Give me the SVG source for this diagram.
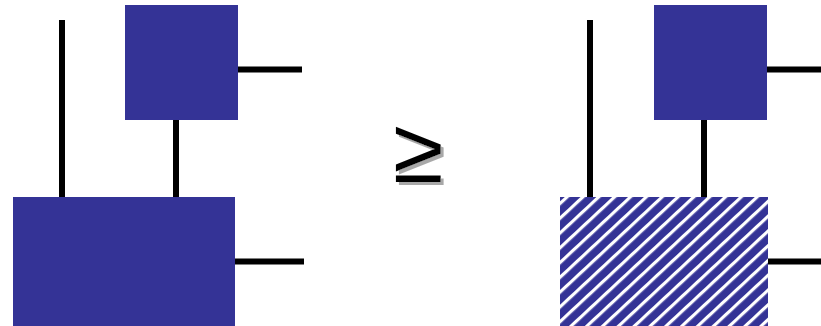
<svg xmlns="http://www.w3.org/2000/svg" width="821" height="326" viewBox="0 0 821 326">
<style>
.box{fill:#343396}
.wire{stroke:#000;stroke-width:6;fill:none}
.sym{font-family:"Liberation Sans",Arial,sans-serif;font-size:92px}
</style>
<defs>
<pattern id="hatch" patternUnits="userSpaceOnUse" width="10.8" height="10.8" patternTransform="rotate(47)">
<rect width="10.8" height="10.8" fill="#343396"/>
<rect x="0" y="0" width="3.2" height="10.8" fill="#ffffff"/>
</pattern>
<filter id="shadow" x="-20%" y="-20%" width="140%" height="140%">
<feOffset in="SourceAlpha" dx="3" dy="3" result="off"/>
<feFlood flood-color="#a8a8a8"/>
<feComposite in2="off" operator="in" result="sh"/>
<feMerge><feMergeNode in="sh"/><feMergeNode in="SourceGraphic"/></feMerge>
</filter>
</defs>
<rect width="821" height="326" fill="#fff"/>
<g id="connectors">
<line class="wire" x1="62" y1="20" x2="62" y2="197"/>
<line class="wire" x1="176" y1="120" x2="176" y2="197"/>
<line class="wire" x1="238" y1="69.5" x2="302" y2="69.5"/>
<line class="wire" x1="235" y1="261.5" x2="304" y2="261.5"/>
<line class="wire" x1="590" y1="20" x2="590" y2="197"/>
<line class="wire" x1="704" y1="120" x2="704" y2="197"/>
<line class="wire" x1="767" y1="69.5" x2="821" y2="69.5"/>
<line class="wire" x1="768" y1="261.5" x2="821" y2="261.5"/>
</g>
<g id="left-top"><rect class="box" x="125" y="5" width="113" height="115"/></g>
<g id="left-bottom"><rect class="box" x="13" y="197" width="222" height="129"/></g>
<g id="right-top"><rect class="box" x="654" y="5" width="113" height="115"/></g>
<g id="right-bottom"><rect x="560" y="197" width="208" height="129" fill="url(#hatch)"/></g>
<g id="relation">
<text class="sym" x="393" y="182" fill="#000" filter="url(#shadow)">≥</text>
</g>
</svg>
